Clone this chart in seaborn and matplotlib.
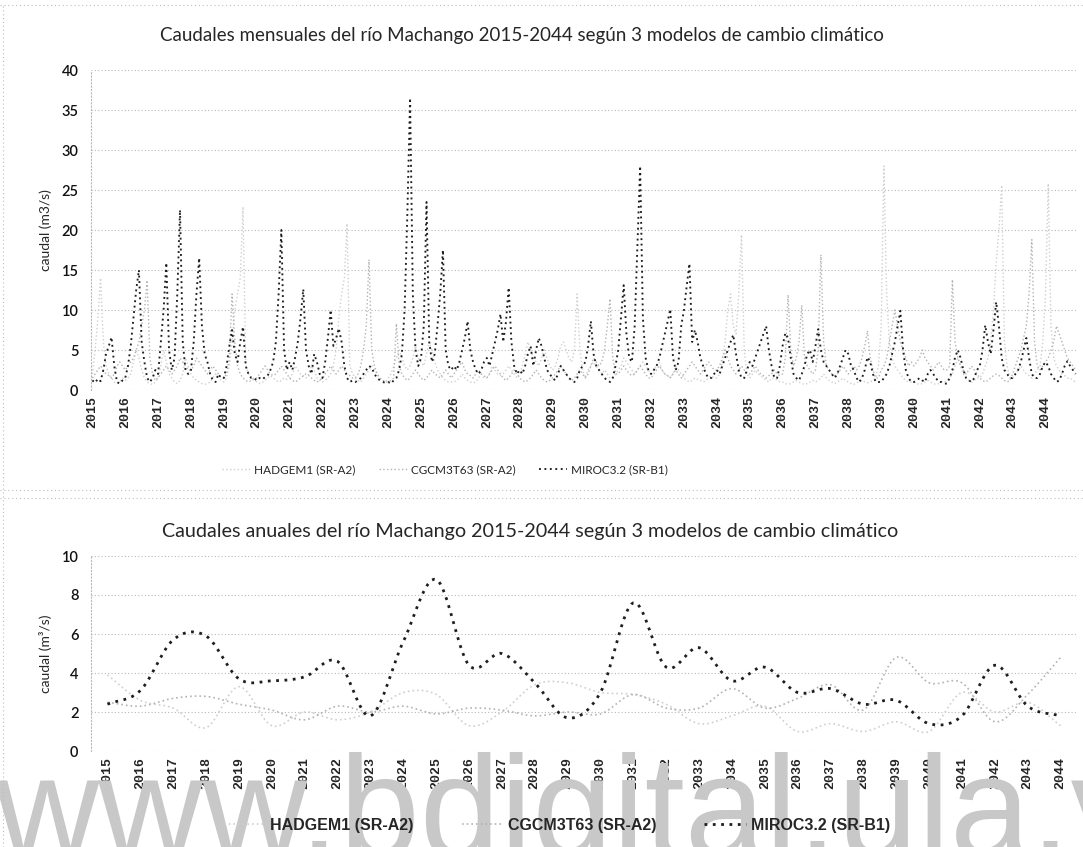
import numpy as np
import pandas as pd
import matplotlib
matplotlib.use("Agg")
import matplotlib.pyplot as plt
from matplotlib.lines import Line2D
import seaborn as sns

# ---------------------------------------------------------------- data
years = list(range(2015, 2045))
models = ["HADGEM1 (SR-A2)", "CGCM3T63 (SR-A2)", "MIROC3.2 (SR-B1)"]

# monthly discharge (m3/s), Jan..Dec for each year 2015-2044
hadgem_monthly = [
    2.0, 5.0, 9.0, 14.0, 6.0, 3.0, 2.0, 1.5, 1.0, 0.8, 1.0, 1.5,
    1.2, 1.5, 2.0, 3.5, 5.0, 4.0, 2.5, 1.5, 1.0, 0.8, 0.7, 1.0,
    1.5, 3.0, 5.0, 3.5, 2.0, 1.5, 1.0, 0.8, 1.2, 2.0, 4.0, 3.0,
    2.0, 1.5, 1.2, 1.0, 0.8, 0.7, 0.8, 1.0, 1.5, 2.0, 1.5, 1.2,
    1.0, 1.5, 3.0, 6.0, 10.0, 12.0, 14.0, 22.9, 3.0, 2.0, 1.5, 1.2,
    1.0, 0.8, 0.9, 1.2, 1.5, 1.8, 1.5, 1.2, 1.0, 1.2, 1.5, 1.3,
    1.5, 2.0, 3.0, 2.5, 2.0, 1.8, 1.5, 2.0, 3.0, 2.5, 1.5, 1.2,
    1.0, 1.2, 1.5, 2.0, 3.0, 5.0, 9.0, 12.0, 14.0, 20.8, 3.0, 2.0,
    1.5, 1.2, 1.0, 1.5, 2.0, 2.5, 3.0, 2.5, 2.0, 1.5, 1.2, 1.0,
    1.5, 2.0, 3.0, 4.0, 5.0, 4.0, 3.0, 2.5, 3.0, 4.0, 5.5, 4.0,
    3.5, 3.0, 4.5, 6.0, 5.0, 3.5, 2.5, 2.0, 1.5, 1.2, 1.0, 1.0,
    1.0, 1.2, 1.5, 2.0, 1.5, 1.2, 1.0, 0.9, 1.0, 1.5, 2.0, 1.5,
    1.5, 2.0, 3.0, 2.5, 2.0, 1.8, 2.0, 2.5, 3.0, 2.5, 2.0, 1.5,
    2.0, 3.0, 4.5, 6.0, 5.0, 4.0, 3.5, 3.0, 4.0, 5.0, 4.0, 3.0,
    2.5, 3.0, 4.0, 5.5, 6.0, 5.0, 4.0, 3.5, 5.0, 12.0, 5.0, 2.5,
    1.5, 2.5, 3.0, 3.5, 3.0, 2.5, 2.0, 2.5, 2.0, 1.5, 1.5, 2.0,
    2.5, 3.0, 4.0, 3.5, 3.0, 2.5, 2.0, 2.5, 3.0, 3.5, 3.0, 2.5,
    2.0, 2.5, 3.0, 3.5, 2.5, 2.0, 1.8, 1.5, 2.0, 3.0, 2.5, 2.0,
    1.5, 1.2, 1.0, 1.2, 1.5, 1.3, 1.2, 1.0, 1.2, 1.5, 1.8, 1.5,
    1.5, 2.0, 3.5, 6.0, 10.0, 12.0, 8.0, 7.0, 12.0, 19.4, 5.0, 2.0,
    1.5, 2.0, 2.5, 2.0, 1.8, 1.5, 1.2, 1.0, 1.5, 1.5, 1.2, 1.0,
    1.0, 0.8, 0.7, 0.8, 1.0, 1.2, 1.0, 0.8, 0.7, 0.8, 1.0, 1.2,
    1.0, 1.2, 1.5, 2.0, 1.5, 1.2, 1.0, 0.8, 1.0, 1.2, 1.5, 1.2,
    1.0, 0.8, 0.7, 0.9, 1.0, 1.2, 1.0, 0.9, 1.0, 1.2, 1.5, 3.0,
    8.0, 28.0, 12.0, 6.0, 4.0, 3.0, 2.5, 2.0, 1.5, 1.2, 1.0, 1.0,
    1.0, 0.8, 0.7, 0.8, 1.0, 1.2, 1.0, 0.8, 0.7, 0.8, 1.0, 1.0,
    1.2, 1.5, 2.0, 3.0, 4.0, 3.0, 2.0, 1.5, 1.2, 1.0, 1.2, 1.5,
    1.5, 2.0, 3.0, 4.0, 6.0, 10.0, 16.0, 20.0, 25.6, 6.0, 3.0, 1.5,
    1.5, 2.0, 2.5, 3.0, 2.5, 2.0, 1.8, 1.5, 2.0, 2.5, 3.0, 6.0,
    12.0, 25.8, 8.0, 4.0, 3.0, 2.5, 2.0, 1.8, 1.5, 1.5, 1.2, 1.0,
]
cgcm_monthly = [
    1.5, 2.0, 2.5, 3.0, 2.5, 2.0, 1.8, 1.5, 2.0, 3.0, 3.5, 3.0,
    2.5, 3.0, 3.5, 4.0, 5.0, 6.0, 8.0, 10.0, 13.7, 4.0, 2.0, 1.2,
    1.5, 2.0, 2.5, 3.0, 2.5, 2.0, 2.5, 3.0, 4.0, 3.5, 3.0, 2.5,
    2.5, 3.0, 4.0, 3.5, 3.0, 2.5, 2.0, 2.5, 3.0, 2.5, 2.0, 1.5,
    1.5, 2.0, 4.0, 12.0, 6.0, 3.0, 2.0, 1.5, 1.2, 1.0, 1.2, 1.5,
    1.5, 2.0, 2.5, 3.0, 2.5, 2.0, 1.8, 2.0, 2.5, 3.0, 2.5, 2.0,
    1.5, 1.2, 1.0, 1.2, 1.5, 1.8, 2.0, 1.8, 1.5, 1.2, 1.0, 1.2,
    1.5, 2.0, 2.5, 3.0, 2.5, 2.0, 2.5, 3.0, 2.5, 2.0, 1.8, 1.5,
    1.5, 2.0, 3.0, 5.0, 8.0, 16.3, 5.0, 3.0, 2.0, 1.5, 1.2, 1.0,
    1.0, 1.2, 1.5, 8.3, 3.0, 2.0, 1.5, 1.2, 1.5, 2.0, 2.5, 2.0,
    1.5, 1.2, 1.5, 2.0, 2.5, 2.0, 1.8, 1.5, 2.0, 2.5, 2.0, 1.5,
    2.0, 2.5, 3.0, 3.5, 2.5, 2.0, 1.8, 1.5, 2.0, 2.5, 2.0, 1.8,
    1.5, 2.0, 2.5, 3.0, 2.5, 2.0, 1.5, 1.2, 1.5, 2.0, 2.5, 2.0,
    1.5, 1.2, 1.0, 1.2, 1.5, 2.0, 2.5, 2.0, 1.5, 1.2, 1.0, 1.2,
    1.5, 2.0, 2.5, 3.0, 2.5, 2.0, 1.5, 1.2, 1.5, 2.0, 2.5, 2.0,
    1.5, 2.0, 3.0, 4.0, 3.5, 3.0, 3.5, 5.0, 8.0, 11.4, 4.0, 2.0,
    2.0, 2.5, 3.0, 2.5, 2.0, 1.8, 2.0, 2.5, 3.0, 2.5, 2.0, 1.5,
    1.5, 2.0, 2.5, 3.0, 2.5, 2.0, 1.8, 1.5, 2.0, 2.5, 2.0, 1.5,
    2.0, 2.5, 3.0, 3.5, 3.0, 2.5, 2.0, 2.5, 3.0, 3.5, 3.0, 2.5,
    2.5, 3.0, 4.0, 5.0, 4.0, 3.0, 2.5, 2.0, 2.5, 3.0, 2.5, 2.0,
    2.0, 2.5, 3.0, 2.5, 2.0, 1.8, 1.5, 1.8, 2.0, 2.5, 2.0, 1.8,
    2.0, 4.0, 11.9, 5.0, 3.0, 4.0, 6.0, 10.6, 4.0, 3.0, 2.5, 2.0,
    2.5, 5.0, 16.9, 6.0, 3.0, 2.5, 2.0, 1.8, 2.0, 2.5, 3.0, 2.5,
    2.0, 2.5, 3.0, 2.5, 3.0, 4.0, 5.5, 7.4, 4.0, 2.5, 1.5, 1.5,
    2.5, 3.0, 4.0, 6.0, 8.0, 10.0, 8.0, 6.0, 5.0, 4.0, 3.0, 3.5,
    3.0, 3.5, 4.0, 5.0, 4.0, 3.5, 3.0, 2.5, 3.0, 3.5, 3.0, 2.5,
    2.5, 3.0, 13.8, 6.0, 4.0, 3.0, 2.5, 2.0, 2.5, 3.0, 2.5, 2.0,
    1.5, 1.2, 1.0, 1.2, 1.5, 1.8, 2.0, 1.8, 1.5, 1.2, 1.0, 1.2,
    2.0, 3.0, 4.0, 5.0, 6.5, 8.0, 12.0, 18.8, 6.0, 3.0, 2.5, 3.0,
    3.5, 4.0, 5.0, 6.0, 8.0, 7.0, 6.0, 5.0, 4.0, 3.5, 3.0, 2.5,
]
miroc_monthly = [
    1.2, 0.9, 1.4, 1.1, 2.5, 4.5, 5.5, 6.6, 3.0, 1.0, 0.8, 1.2,
    1.5, 3.0, 5.5, 9.0, 12.5, 15.0, 6.0, 3.5, 1.5, 1.0, 1.5, 2.5,
    2.0, 6.0, 10.0, 15.9, 5.0, 2.5, 4.0, 12.0, 22.5, 6.0, 2.5, 2.0,
    2.5, 6.0, 12.0, 16.5, 8.0, 4.5, 3.5, 2.0, 1.2, 1.0, 2.0, 1.5,
    1.5, 3.0, 5.5, 7.5, 4.5, 3.5, 6.0, 7.9, 3.0, 2.0, 1.5, 1.5,
    1.2, 1.5, 1.3, 1.6, 1.8, 2.5, 3.5, 6.0, 12.0, 20.0, 5.0, 2.5,
    3.5, 2.5, 4.0, 6.0, 9.0, 12.6, 5.0, 3.0, 2.0, 4.5, 3.5, 2.0,
    1.5, 3.5, 6.5, 10.0, 5.5, 6.5, 7.7, 6.0, 3.0, 1.5, 1.0, 1.2,
    1.0, 1.2, 1.5, 2.0, 2.5, 3.0, 2.8, 2.0, 1.5, 1.2, 1.0, 0.9,
    1.0, 0.8, 1.2, 1.5, 2.5, 4.5, 10.0, 22.0, 36.5, 12.0, 5.0, 3.0,
    4.0, 8.0, 23.5, 6.0, 3.5, 4.5, 8.0, 12.0, 17.5, 5.0, 3.0, 2.5,
    3.0, 2.5, 3.5, 5.0, 6.5, 8.6, 5.0, 3.5, 2.5, 2.0, 2.5, 3.5,
    4.0, 3.0, 4.5, 6.0, 7.5, 9.5, 6.0, 8.5, 12.8, 6.0, 3.0, 2.0,
    2.5, 2.0, 3.0, 4.5, 5.5, 3.0, 5.0, 6.5, 5.5, 4.0, 2.5, 2.0,
    1.5, 1.2, 2.0, 3.0, 2.5, 2.0, 1.5, 1.2, 1.0, 1.5, 2.5, 3.0,
    3.5, 5.5, 8.6, 4.5, 3.0, 2.5, 2.0, 1.5, 1.2, 1.0, 1.5, 3.0,
    5.0, 9.0, 13.1, 7.0, 4.0, 3.5, 8.0, 18.0, 28.0, 9.0, 4.0, 2.5,
    2.0, 2.5, 3.0, 4.0, 5.5, 7.0, 8.5, 10.1, 4.0, 2.5, 3.5, 8.0,
    10.0, 13.0, 15.8, 6.0, 7.5, 6.0, 4.0, 3.0, 2.0, 1.5, 1.5, 2.0,
    2.5, 2.0, 3.0, 4.0, 5.0, 6.0, 6.9, 4.5, 2.5, 1.5, 1.5, 2.5,
    3.5, 3.0, 4.0, 5.0, 6.0, 7.0, 8.0, 5.0, 3.0, 1.5, 1.5, 3.0,
    5.5, 7.1, 6.5, 4.0, 2.0, 1.5, 1.2, 2.0, 3.0, 4.5, 5.0, 3.5,
    5.5, 7.6, 5.0, 3.5, 3.0, 2.5, 2.0, 1.5, 2.0, 3.0, 4.0, 5.0,
    4.5, 3.0, 2.5, 1.5, 1.0, 1.5, 2.5, 4.1, 3.5, 2.0, 1.0, 1.0,
    1.0, 1.5, 2.0, 3.0, 4.5, 6.0, 8.0, 9.9, 5.0, 2.5, 1.5, 1.0,
    1.0, 1.2, 1.5, 1.2, 1.0, 2.0, 2.5, 2.0, 1.5, 1.0, 1.0, 0.8,
    0.8, 1.5, 2.5, 4.1, 5.0, 4.0, 2.5, 1.5, 1.2, 1.0, 1.5, 2.5,
    3.0, 5.0, 8.1, 6.0, 4.5, 7.5, 11.0, 8.0, 4.0, 2.5, 2.0, 1.5,
    1.5, 2.0, 2.5, 3.5, 5.0, 6.5, 4.0, 2.0, 1.5, 1.5, 2.0, 3.0,
    3.5, 3.0, 2.0, 1.5, 1.0, 1.2, 2.0, 3.0, 3.6, 3.0, 2.5, 2.0,
]

# annual mean discharge (m3/s), 2015-2044
hadgem_annual = [3.9, 2.6, 2.2, 1.2, 3.3, 1.3, 2.0, 1.6, 2.0, 3.0,
                 2.9, 1.3, 2.0, 3.4, 3.5, 3.0, 2.9, 2.4, 1.4, 1.8,
                 2.3, 1.0, 1.4, 1.0, 1.5, 1.0, 3.0, 2.0, 2.5, 1.3]
cgcm_annual = [2.5, 2.3, 2.7, 2.8, 2.4, 2.1, 1.6, 2.3, 2.0, 2.3,
               1.9, 2.2, 2.1, 1.8, 2.0, 1.9, 2.9, 2.2, 2.2, 3.2,
               2.2, 2.7, 3.4, 2.1, 4.8, 3.5, 3.5, 1.5, 2.9, 4.8]
miroc_annual = [2.4, 3.1, 5.7, 5.9, 3.7, 3.6, 3.8, 4.6, 1.8, 5.6,
                8.8, 4.4, 5.0, 3.5, 1.7, 3.0, 7.6, 4.3, 5.3, 3.6,
                4.3, 3.0, 3.2, 2.4, 2.6, 1.4, 1.8, 4.4, 2.3, 1.8]

# ---------------------------------------------------------------- style
W, H = 1083, 847
sns.set_theme(style="white")
plt.rcParams["font.family"] = ["Lato", "DejaVu Sans"]
NARROW = ["Liberation Sans Narrow", "Liberation Sans"]

colors = {models[0]: "#cfcfcf", models[1]: "#b3b3b3", models[2]: "#1e1e1e"}
dash_m = {models[0]: (1, 1.7), models[1]: (1, 1.7), models[2]: (1, 1.9)}
dash_a = {models[0]: (1, 1.8), models[1]: (1, 1.8), models[2]: (1, 2.0)}
widths_m = {models[0]: 1.0, models[1]: 1.0, models[2]: 1.35}
widths_a = {models[0]: 1.2, models[1]: 1.2, models[2]: 2.0}
grid_kw = dict(color="#b9b9b9", linestyle=(0, (1, 2)), linewidth=0.8)


def rect(x0, y0, x1, y1):
    return [x0 / W, 1 - y1 / H, (x1 - x0) / W, (y1 - y0) / H]


def smooth(y, n=16):
    """Cardinal (Catmull-Rom) curve through the yearly points."""
    y = np.asarray(y, float)
    p = np.concatenate([[2 * y[0] - y[1]], y, [2 * y[-1] - y[-2]]])
    xs, ys = [], []
    for i in range(len(y) - 1):
        p0, p1, p2, p3 = p[i], p[i + 1], p[i + 2], p[i + 3]
        t = np.linspace(0, 1, n, endpoint=False)
        m1, m2 = (p2 - p0) / 2, (p3 - p1) / 2
        h = (2 * t**3 - 3 * t**2 + 1) * p1 + (t**3 - 2 * t**2 + t) * m1 \
            + (-2 * t**3 + 3 * t**2) * p2 + (t**3 - t**2) * m2
        xs.append(i + t)
        ys.append(h)
    xs.append([len(y) - 1])
    ys.append([y[-1]])
    return np.concatenate(xs), np.concatenate(ys)


def style_axes(ax, ymax, step):
    ax.set_ylim(0, ymax)
    ax.set_yticks(np.arange(0, ymax + 0.1, step))
    ax.yaxis.grid(True, **grid_kw)
    ax.xaxis.grid(False)
    for s in ["top", "right", "bottom"]:
        ax.spines[s].set_visible(False)
    ax.spines["left"].set_color("#b9b9b9")
    ax.spines["left"].set_linestyle((0, (1, 2)))
    ax.spines["left"].set_linewidth(0.8)
    ax.tick_params(axis="y", length=0, pad=9)
    ax.tick_params(axis="x", length=0, pad=4)
    for lab in ax.get_yticklabels():
        lab.set_fontsize(10.5)
        lab.set_fontweight("semibold")
        lab.set_color("#111111")
    ax.set_xlabel("")


fig = plt.figure(figsize=(W / 100, H / 100), dpi=100)
fig.patch.set_facecolor("white")

# ---------------------------------------------------------------- monthly
monthly = pd.DataFrame({
    "mes": np.tile(np.arange(len(miroc_monthly)), 3),
    "caudal": np.concatenate([hadgem_monthly, cgcm_monthly, miroc_monthly]),
    "modelo": np.repeat(models, len(miroc_monthly)),
})
ax1 = fig.add_axes(rect(91, 70, 1077, 390))
for mdl in models:
    sns.lineplot(data=monthly[monthly["modelo"] == mdl], x="mes", y="caudal",
                 color=colors[mdl], linewidth=widths_m[mdl],
                 ax=ax1, legend=False, linestyle=(0, dash_m[mdl]))
ax1.set_xlim(-0.5, len(miroc_monthly) - 0.5)
ax1.set_xticks(np.arange(0, len(miroc_monthly), 12))
ax1.set_xticklabels([str(y) for y in years], rotation=90,
                    family="Liberation Mono", fontweight="bold", fontsize=9.5)
style_axes(ax1, 40, 5)
ax1.set_ylabel("caudal (m3/s)", fontsize=10, labelpad=7)
ax1.set_title("Caudales mensuales del río Machango 2015-2044 según 3 modelos de cambio climático",
              fontsize=13.5, pad=21, x=(522 - 91) / 986)

# ---------------------------------------------------------------- annual
ax2 = fig.add_axes(rect(91, 556, 1077, 751))
annual = {models[0]: hadgem_annual, models[1]: cgcm_annual, models[2]: miroc_annual}
for mdl in models:
    xs, ys = smooth(annual[mdl])
    curve = pd.DataFrame({"anio": xs, "caudal": ys})
    sns.lineplot(data=curve, x="anio", y="caudal", color=colors[mdl],
                 linewidth=widths_a[mdl], linestyle=(0, dash_a[mdl]),
                 ax=ax2, legend=False, sort=False)
ax2.set_xlim(-0.5, len(years) - 0.5)
ax2.set_xticks(np.arange(len(years)))
ax2.set_xticklabels([str(y) for y in years], rotation=90,
                    family="Liberation Mono", fontweight="bold", fontsize=9.5)
style_axes(ax2, 10, 2)
ax2.set_ylabel("caudal (m³/s)", fontsize=10, labelpad=7)
ax2.set_title("Caudales anuales del río Machango 2015-2044 según 3 modelos de cambio climático",
              fontsize=14.2, pad=14, x=(530 - 91) / 986)

# ---------------------------------------------------------------- legends
def handles(lw, ds):
    return [Line2D([], [], color=colors[m], linestyle=(0, ds[m]),
                   linewidth=lw[m]) for m in models]

fig.legend(handles(widths_m, dash_m), models, loc="center", ncol=3,
           bbox_to_anchor=(445 / W, 1 - 470 / H), frameon=False,
           fontsize=8.5, handlelength=2.4, columnspacing=2.0, handletextpad=0.3)
fig.legend(handles(widths_a, dash_a), models, loc="center", ncol=3,
           bbox_to_anchor=(557 / W, 1 - 825 / H), frameon=False,
           prop={"size": 11.5, "weight": "bold", "family": NARROW},
           handlelength=2.6, columnspacing=3.0, handletextpad=0.3)

# chart-area borders
border = dict(color="#bdbdbd", linestyle=(0, (1, 2.5)), linewidth=0.8,
              transform=fig.transFigure)
for yb in (5, 490, 498):
    fig.add_artist(Line2D([0, 1], [1 - yb / H] * 2, **border))
fig.add_artist(Line2D([3 / W] * 2, [0, 1 - 5 / H], **border))

# repository watermark
fig.text(-0.005, -0.012, "www.bdigital.ula.ve", fontsize=104, family=NARROW,
         color="#c8c8c8", ha="left", va="baseline", zorder=0)

fig.savefig("out.png", dpi=100, facecolor="white")
